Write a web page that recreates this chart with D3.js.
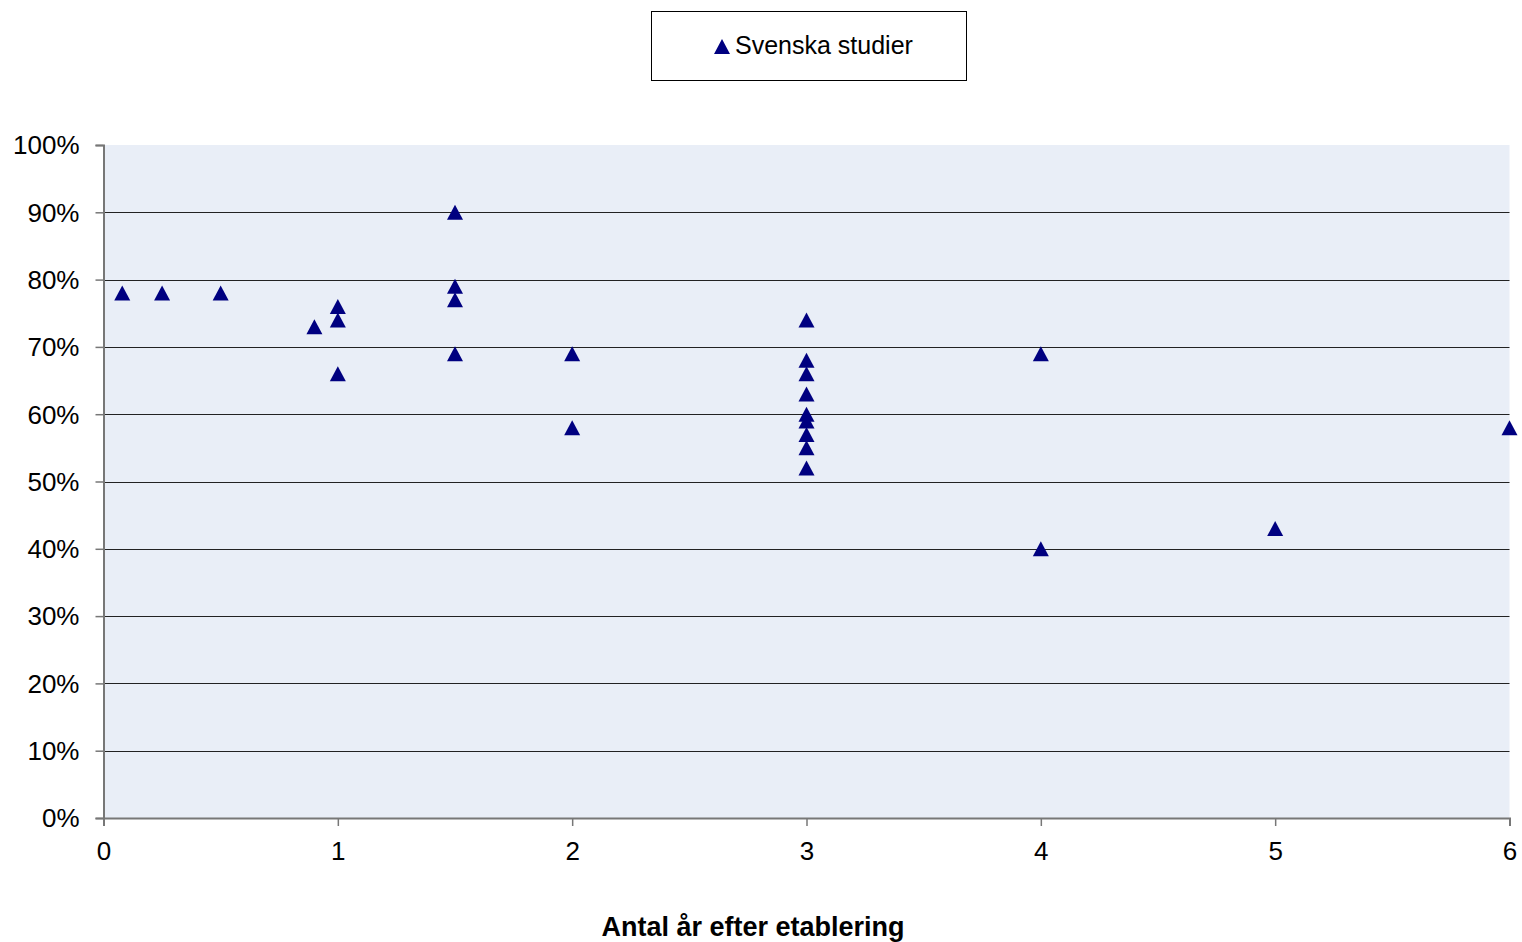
<!DOCTYPE html>
<html><head><meta charset="utf-8">
<script src="https://cdn.jsdelivr.net/npm/d3@7"></script>
<style>body{margin:0;background:#fff}svg{display:block}</style>
</head><body>
<svg id="c" width="1522" height="942"></svg>
<script>
const xValues = [0.08, 0.25, 0.5, 0.9, 1, 1, 1, 1.5, 1.5, 1.5, 1.5, 2, 2, 3, 3, 3, 3, 3, 3, 3, 3, 3, 4, 4, 5, 6];
const yValues = [0.78, 0.78, 0.78, 0.73, 0.76, 0.74, 0.66, 0.90, 0.79, 0.77, 0.69, 0.69, 0.58, 0.74, 0.68, 0.66, 0.63, 0.60, 0.59, 0.57, 0.55, 0.52, 0.69, 0.40, 0.43, 0.58];
const xTicks = [0, 1, 2, 3, 4, 5, 6];
const yTicks = [0, 0.1, 0.2, 0.3, 0.4, 0.5, 0.6, 0.7, 0.8, 0.9, 1.0];
const seriesName = "Svenska studier";
const xTitle = "Antal år efter etablering";

const svg = d3.select("#c");
const L = 103.5, R = 1509.5, T = 145, B = 818;
const x = d3.scaleLinear().domain([0, 6]).range([L, R]);
const y = d3.scaleLinear().domain([0, 1]).range([B, T]);
const font = "Liberation Sans, Arial, sans-serif";
const navy = "#000080";

svg.append("rect").attr("x", L).attr("y", T).attr("width", R - L).attr("height", B - T).attr("fill", "#E9EEF7");

// gridlines
svg.append("g").selectAll("line").data(yTicks.filter(d => d > 0 && d < 1)).join("line")
  .attr("x1", L).attr("x2", R).attr("y1", d => Math.round(y(d)) + 0.5).attr("y2", d => Math.round(y(d)) + 0.5)
  .attr("stroke", "#222").attr("stroke-width", 1);

// y axis
const yAxis = d3.axisLeft(y).tickValues(yTicks).tickFormat(d3.format(".0%")).tickSize(8).tickPadding(16);
const gy = svg.append("g").attr("transform", `translate(${L},0)`).call(yAxis);
gy.select(".domain").attr("stroke", "#777").attr("stroke-width", 2);
gy.selectAll(".tick line").attr("stroke", "#777").attr("stroke-width", 1.5);
gy.selectAll("text").attr("font-family", font).attr("font-size", 26).attr("fill", "#000").attr("dy", "0.34em");

// x axis
const xAxis = d3.axisBottom(x).tickValues(xTicks).tickFormat(d3.format("d")).tickSize(8).tickPadding(16);
const gx = svg.append("g").attr("transform", `translate(0,${B})`).call(xAxis);
gx.select(".domain").attr("stroke", "#777").attr("stroke-width", 2);
gx.selectAll(".tick line").attr("stroke", "#777").attr("stroke-width", 1.5);
gx.selectAll("text").attr("font-family", font).attr("font-size", 26).attr("fill", "#000");

svg.append("text").attr("x", 753).attr("y", 936).attr("text-anchor", "middle")
  .attr("font-family", font).attr("font-size", 27).attr("font-weight", "bold").text(xTitle);

// triangle marker: 16 wide, 15 tall, centred on its bounding box
const triType = {draw(ctx) { ctx.moveTo(0, -7.5); ctx.lineTo(8, 7.5); ctx.lineTo(-8, 7.5); ctx.closePath(); }};
const tri = d3.symbol().type(triType);
const pts = xValues.map((v, i) => ({x: v, y: yValues[i]}));
svg.append("g").selectAll("path").data(pts).join("path")
  .attr("d", tri).attr("transform", d => `translate(${x(d.x)},${y(d.y)})`)
  .attr("fill", navy);

// legend
svg.append("rect").attr("x", 651.5).attr("y", 11.5).attr("width", 315).attr("height", 69)
  .attr("fill", "#fff").attr("stroke", "#000").attr("stroke-width", 1);
svg.append("path").attr("d", tri).attr("transform", "translate(722,46.5)").attr("fill", navy);
svg.append("text").attr("x", 735).attr("y", 54).attr("font-family", font).attr("font-size", 25).text(seriesName);
</script>
</body></html>
